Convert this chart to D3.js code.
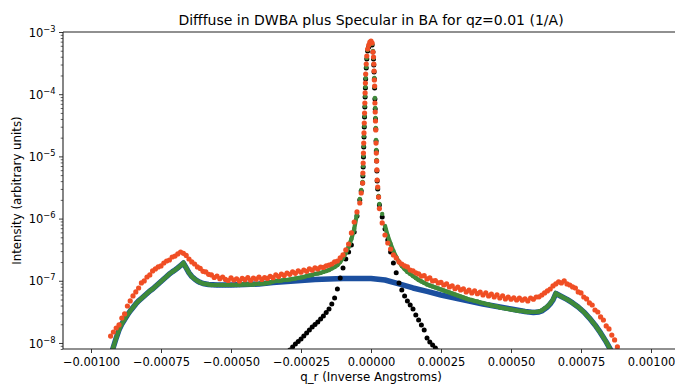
<!DOCTYPE html>
<html>
<head>
<meta charset="utf-8">
<script src="https://cdn.jsdelivr.net/npm/d3@7/dist/d3.min.js"></script>
<style>
  body { margin: 0; background: #fff; }
  svg text { font-family: "DejaVu Sans", sans-serif; fill: #000; }
</style>
</head>
<body>
<svg id="chart" width="675" height="385"></svg>
<script>
// ---- Data (q_r lists are in units of 1e-5 1/A) ----
const QR_UNIT = 1e-5;

// grid shared by the measured data and the total model
const qrData = [
  -93, -92, -91, -90, -89, -88, -87, -86, -85, -84,
  -83, -82, -81, -80, -79, -78, -77, -76, -75, -74,
  -73, -72, -71, -70, -69, -68, -67, -66, -65, -64,
  -63, -62, -61, -60, -59, -58, -57, -56, -55, -54,
  -53, -52, -51, -50, -49, -48, -47, -46, -45, -44,
  -43, -42, -41, -40, -39, -38, -37, -36, -35, -34,
  -33, -32, -31, -30, -29, -28, -27, -26, -25, -24,
  -23, -22, -21, -20, -19, -18, -17, -16, -15, -14,
  -13, -12, -11, -10, -9, -8, -7, -6, -5, -4,
  -3.5, -3, -2.9, -2.8, -2.7, -2.6, -2.5, -2.4, -2.3, -2.2, -2.1, -2, -1.9, -1.7, -1.5, -1.2, -0.8, -0.4,
  0, 0.4, 0.7, 0.9, 1, 1.1, 1.2, 1.3, 1.4, 1.5, 1.6, 1.7, 1.8, 1.9, 2, 2.1, 2.2, 2.4, 2.7,
  3, 4, 5, 6, 7, 8, 9, 10, 11, 12,
  13, 14, 15, 16, 17, 18, 19, 20, 21, 22,
  23, 24, 25, 26, 27, 28, 29, 30, 31, 32,
  33, 34, 35, 36, 37, 38, 39, 40, 41, 42,
  43, 44, 45, 46, 47, 48, 49, 50, 51, 52,
  53, 54, 55, 56, 57, 58, 59, 60, 61, 62,
  63, 64, 65, 66, 67, 68, 69, 70, 71, 72,
  73, 74, 75, 76, 77, 78, 79, 80, 81, 82,
  83, 84, 85, 86, 87, 88
];

// measured intensity (orange)
const measured = [
  1.29e-8, 1.50e-8, 1.74e-8, 1.95e-8, 2.52e-8, 2.93e-8, 3.93e-8, 4.74e-8, 5.70e-8, 6.61e-8,
  7.66e-8, 9.22e-8, 9.93e-8, 1.15e-7, 1.24e-7, 1.44e-7, 1.55e-7, 1.67e-7, 1.73e-7, 1.93e-7,
  2.08e-7, 2.16e-7, 2.41e-7, 2.50e-7, 2.70e-7, 2.90e-7, 2.75e-7, 2.56e-7, 2.24e-7, 2.01e-7,
  1.86e-7, 1.67e-7, 1.58e-7, 1.42e-7, 1.39e-7, 1.27e-7, 1.24e-7, 1.13e-7, 1.19e-7, 1.08e-7,
  1.15e-7, 1.05e-7, 1.01e-7, 1.11e-7, 1.03e-7, 1.07e-7, 9.93e-8, 1.09e-7, 1.04e-7, 1.12e-7,
  1.02e-7, 1.10e-7, 1.06e-7, 1.15e-7, 1.05e-7, 1.13e-7, 1.09e-7, 1.18e-7, 1.12e-7, 1.24e-7,
  1.17e-7, 1.28e-7, 1.22e-7, 1.33e-7, 1.27e-7, 1.39e-7, 1.32e-7, 1.44e-7, 1.37e-7, 1.49e-7,
  1.42e-7, 1.55e-7, 1.48e-7, 1.61e-7, 1.55e-7, 1.66e-7, 1.64e-7, 1.73e-7, 1.79e-7, 1.86e-7,
  2.01e-7, 2.08e-7, 2.33e-7, 2.60e-7, 3.13e-7, 3.90e-7, 5.87e-7, 8.82e-7, 1.28e-6, 1.78e-6,
  2.58e-6, 3.73e-6, 5.41e-6, 7.83e-6, 1.13e-5, 1.64e-5, 2.38e-5, 3.44e-5, 4.98e-5, 7.22e-5, 1.05e-4, 1.51e-4, 2.11e-4, 3.06e-4, 4.11e-4, 5.33e-4, 6.18e-4, 6.90e-4,
  7.16e-4, 6.65e-4, 4.77e-4, 3.96e-4, 3.06e-4, 2.36e-4, 1.69e-4, 1.35e-4, 7.22e-5, 5.17e-5, 3.71e-5, 2.66e-5, 1.64e-5, 1.13e-5, 8.43e-6, 6.05e-6, 4.17e-6, 3.22e-6, 2.22e-6,
  1.45e-6, 8.50e-7, 5.45e-7, 4.05e-7, 3.24e-7, 2.60e-7, 2.33e-7, 2.01e-7, 1.86e-7, 1.73e-7,
  1.67e-7, 1.49e-7, 1.44e-7, 1.34e-7, 1.29e-7, 1.19e-7, 1.21e-7, 1.07e-7, 1.11e-7, 9.93e-8,
  1.01e-7, 9.22e-8, 9.40e-8, 8.56e-8, 8.89e-8, 7.95e-8, 8.31e-8, 7.45e-8, 7.90e-8, 7.12e-8,
  7.42e-8, 6.61e-8, 7.05e-8, 6.37e-8, 6.86e-8, 6.20e-8, 6.55e-8, 5.91e-8, 6.40e-8, 5.70e-8,
  6.10e-8, 5.49e-8, 5.95e-8, 5.29e-8, 5.75e-8, 5.10e-8, 5.49e-8, 5.05e-8, 5.33e-8, 4.91e-8,
  5.25e-8, 4.88e-8, 5.12e-8, 4.74e-8, 5.29e-8, 5.05e-8, 5.49e-8, 5.52e-8, 5.91e-8, 6.37e-8,
  6.86e-8, 7.38e-8, 8.25e-8, 8.89e-8, 9.57e-8, 9.22e-8, 9.93e-8, 8.89e-8, 8.56e-8, 7.95e-8,
  7.66e-8, 6.61e-8, 6.37e-8, 5.49e-8, 5.10e-8, 4.40e-8, 4.08e-8, 3.39e-8, 3.15e-8, 2.62e-8,
  2.34e-8, 1.88e-8, 1.68e-8, 1.34e-8, 1.12e-8, 8.63e-9
];

// diffuse (DWBA) + specular (BA) model (green)
const modelTotal = [
  6.18e-9, 8.63e-9, 1.20e-8, 1.62e-8, 2.02e-8, 2.39e-8, 2.82e-8, 3.27e-8, 3.72e-8, 4.24e-8,
  4.74e-8, 5.19e-8, 5.70e-8, 6.25e-8, 6.86e-8, 7.38e-8, 8.10e-8, 8.89e-8, 9.75e-8, 1.07e-7,
  1.17e-7, 1.29e-7, 1.39e-7, 1.49e-7, 1.61e-7, 1.76e-7, 1.93e-7, 1.61e-7, 1.34e-7, 1.17e-7,
  1.07e-7, 9.93e-8, 9.40e-8, 9.05e-8, 8.89e-8, 8.73e-8, 8.56e-8, 8.56e-8, 8.56e-8, 8.56e-8,
  8.56e-8, 8.56e-8, 8.56e-8, 8.56e-8, 8.56e-8, 8.56e-8, 8.56e-8, 8.73e-8, 8.73e-8, 8.73e-8,
  8.73e-8, 8.73e-8, 8.89e-8, 8.89e-8, 9.05e-8, 9.05e-8, 9.22e-8, 9.40e-8, 9.75e-8, 9.93e-8,
  9.93e-8, 1.01e-7, 1.03e-7, 1.03e-7, 1.05e-7, 1.07e-7, 1.09e-7, 1.11e-7, 1.13e-7, 1.15e-7,
  1.19e-7, 1.22e-7, 1.24e-7, 1.29e-7, 1.31e-7, 1.34e-7, 1.39e-7, 1.44e-7, 1.49e-7, 1.58e-7,
  1.67e-7, 1.79e-7, 2.01e-7, 2.33e-7, 2.80e-7, 3.49e-7, 4.70e-7, 6.81e-7, 1.19e-6, 2.07e-6,
  2.88e-6, 3.88e-6, 5.02e-6, 7.01e-6, 1.02e-5, 1.47e-5, 2.13e-5, 3.08e-5, 4.46e-5, 6.46e-5, 9.36e-5, 1.31e-4, 1.82e-4, 2.74e-4, 3.82e-4, 5.14e-4, 5.95e-4, 6.65e-4,
  6.90e-4, 6.41e-4, 4.95e-4, 3.82e-4, 3.06e-4, 2.36e-4, 1.82e-4, 1.31e-4, 8.69e-5, 6.00e-5, 4.14e-5, 2.86e-5, 1.84e-5, 1.27e-5, 8.75e-6, 6.05e-6, 4.17e-6, 3.10e-6, 2.31e-6,
  1.72e-6, 1.19e-6, 7.61e-7, 5.25e-7, 3.90e-7, 3.01e-7, 2.41e-7, 2.01e-7, 1.73e-7, 1.55e-7,
  1.39e-7, 1.29e-7, 1.19e-7, 1.11e-7, 1.03e-7, 9.75e-8, 9.22e-8, 8.73e-8, 8.40e-8, 8.10e-8,
  7.81e-8, 7.52e-8, 7.25e-8, 6.99e-8, 6.74e-8, 6.49e-8, 6.25e-8, 6.03e-8, 5.80e-8, 5.60e-8,
  5.39e-8, 5.19e-8, 5.01e-8, 4.91e-8, 4.74e-8, 4.65e-8, 4.48e-8, 4.40e-8, 4.24e-8, 4.16e-8,
  4.01e-8, 3.93e-8, 3.86e-8, 3.72e-8, 3.65e-8, 3.58e-8, 3.52e-8, 3.46e-8, 3.39e-8, 3.33e-8,
  3.27e-8, 3.27e-8, 3.21e-8, 3.15e-8, 3.15e-8, 3.15e-8, 3.15e-8, 3.21e-8, 3.33e-8, 3.58e-8,
  3.86e-8, 4.32e-8, 5.01e-8, 6.25e-8, 5.91e-8, 5.60e-8, 5.29e-8, 5.01e-8, 4.74e-8, 4.40e-8,
  4.08e-8, 3.79e-8, 3.46e-8, 3.15e-8, 2.82e-8, 2.52e-8, 2.22e-8, 1.95e-8, 1.68e-8, 1.45e-8,
  1.23e-8, 1.04e-8, 8.63e-9, 7.17e-9, 5.96e-9, 4.90e-9
];

// specular in BA (black)
const qrSpec = [
  -29, -28, -27, -26, -25, -24, -23, -22, -21, -20,
  -19, -18, -17, -16, -15, -14, -13, -12, -11, -10,
  -9, -8, -7, -6, -5, -4,
  -3.5, -3, -2.9, -2.8, -2.7, -2.6, -2.5, -2.4, -2.3, -2.2, -2.1, -2, -1.9, -1.7, -1.5, -1.2, -0.8, -0.4,
  0, 0.4, 0.7, 0.9, 1, 1.1, 1.2, 1.3, 1.4, 1.5, 1.6, 1.7, 1.8, 1.9, 2, 2.1, 2.2, 2.4, 2.7,
  3, 4, 5, 6, 7, 8, 9, 10, 11, 12,
  13, 14, 15, 16, 17, 18, 19, 20, 21, 22, 23, 24
];
const specular = [
  7.72e-9, 8.63e-9, 9.64e-9, 1.06e-8, 1.16e-8, 1.29e-8, 1.45e-8, 1.62e-8, 1.81e-8, 1.99e-8,
  2.18e-8, 2.43e-8, 2.72e-8, 3.09e-8, 3.52e-8, 4.24e-8, 5.29e-8, 7.38e-8, 1.11e-7, 1.61e-7,
  2.24e-7, 2.90e-7, 3.76e-7, 6.09e-7, 1.10e-6, 1.99e-6,
  2.78e-6, 3.73e-6, 4.84e-6, 6.76e-6, 9.78e-6, 1.42e-5, 2.05e-5, 2.97e-5, 4.30e-5, 6.22e-5, 9.02e-5, 1.26e-4, 1.75e-4, 2.64e-4, 3.68e-4, 4.95e-4, 5.74e-4, 6.41e-4,
  6.65e-4, 6.18e-4, 4.77e-4, 3.68e-4, 2.95e-4, 2.28e-4, 1.75e-4, 1.26e-4, 8.37e-5, 5.78e-5, 3.99e-5, 2.76e-5, 1.77e-5, 1.22e-5, 8.43e-6, 5.82e-6, 4.02e-6, 2.99e-6, 2.22e-6,
  1.66e-6, 1.06e-6, 6.81e-7, 4.53e-7, 2.90e-7, 1.93e-7, 1.34e-7, 9.22e-8, 7.12e-8, 5.70e-8,
  4.74e-8, 4.08e-8, 3.52e-8, 2.82e-8, 2.34e-8, 1.95e-8, 1.62e-8, 1.20e-8, 1.04e-8, 9.29e-9, 8.31e-9, 7.44e-9
];

// diffuse in DWBA (blue line)
const qrDiffuse = [
  -93, -92, -91, -90, -89, -88, -87, -86, -85, -84, -83, -82, -81, -80, -79, -78, -77, -76, -75, -74,
  -73, -72, -71, -70, -69, -68, -67, -66, -65, -64, -63, -62, -61, -60, -58, -55, -50, -45, -40, -35,
  -30, -25, -20, -15, -10, -5, 0, 5, 10, 15, 20, 25, 30, 35, 40, 45, 50, 55, 58, 60,
  61, 62, 63, 64, 65, 66, 67, 68, 70, 72, 74, 76, 78, 80, 82, 84, 86
];
const diffuse = [
  6.18e-9, 8.63e-9, 1.20e-8, 1.62e-8, 2.02e-8, 2.39e-8, 2.82e-8, 3.27e-8, 3.72e-8, 4.24e-8, 4.74e-8, 5.19e-8, 5.70e-8, 6.25e-8, 6.86e-8, 7.38e-8, 8.10e-8, 8.89e-8, 9.75e-8, 1.07e-7,
  1.17e-7, 1.29e-7, 1.39e-7, 1.49e-7, 1.61e-7, 1.76e-7, 1.93e-7, 1.61e-7, 1.34e-7, 1.17e-7, 1.07e-7, 9.93e-8, 9.40e-8, 9.05e-8, 8.73e-8, 8.56e-8, 8.56e-8, 8.73e-8, 8.89e-8, 9.40e-8,
  9.75e-8, 1.01e-7, 1.05e-7, 1.07e-7, 1.09e-7, 1.09e-7, 1.09e-7, 1.03e-7, 8.89e-8, 7.66e-8, 6.74e-8, 5.91e-8, 5.29e-8, 4.74e-8, 4.24e-8, 3.86e-8, 3.52e-8, 3.21e-8, 3.09e-8, 3.15e-8,
  3.27e-8, 3.52e-8, 3.79e-8, 4.24e-8, 4.91e-8, 6.25e-8, 5.91e-8, 5.60e-8, 5.01e-8, 4.40e-8, 3.79e-8, 3.15e-8, 2.52e-8, 1.95e-8, 1.45e-8, 1.04e-8, 7.17e-9
];

const xTicks = [-0.001, -0.00075, -0.0005, -0.00025, 0, 0.00025, 0.0005, 0.00075, 0.001];
const yTickExponents = [-8, -7, -6, -5, -4, -3];

const TITLE = 'Difffuse in DWBA plus Specular in BA for qz=0.01 (1/A)';
const X_LABEL = 'q_r (Inverse Angstroms)';
const Y_LABEL = 'Intensity (arbitrary units)';

// ---- Drawing ----
const ORANGE = '#f04e24';
const GREEN = '#3f8a3a';
const BLUE = '#1b4f9f';
const FONT = '"DejaVu Sans", sans-serif';

const plot = { left: 63, right: 679, top: 32, bottom: 349 };

const svg = d3.select('#chart');

const x = d3.scaleLinear().domain([-0.0011, 0.0011]).range([plot.left, plot.right]);
const y = d3.scaleLog().domain([8.0e-9, 1e-3]).range([plot.bottom, plot.top]);

const toPoints = (qs, vs) => qs.map((q, i) => ({ q: q * QR_UNIT, v: vs[i] }));

svg.append('defs').append('clipPath').attr('id', 'plotClip')
  .append('rect')
  .attr('x', plot.left).attr('y', plot.top)
  .attr('width', plot.right - plot.left).attr('height', plot.bottom - plot.top);

const g = svg.append('g').attr('clip-path', 'url(#plotClip)');

// diffuse line
g.append('path')
  .datum(toPoints(qrDiffuse, diffuse))
  .attr('fill', 'none')
  .attr('stroke', BLUE)
  .attr('stroke-width', 5.5)
  .attr('stroke-linejoin', 'round')
  .attr('d', d3.line().x(d => x(d.q)).y(d => y(d.v)));

// specular dots
g.append('g')
  .selectAll('circle')
  .data(toPoints(qrSpec, specular))
  .join('circle')
  .attr('cx', d => x(d.q))
  .attr('cy', d => y(d.v))
  .attr('r', 2.5)
  .attr('fill', '#000');

// total model: dense dots, joined outside the narrow specular core
const total = toPoints(qrData, modelTotal);
g.append('path')
  .datum(total)
  .attr('fill', 'none')
  .attr('stroke', GREEN)
  .attr('stroke-width', 4.2)
  .attr('d', d3.line().defined(d => Math.abs(d.q) > 4e-5).x(d => x(d.q)).y(d => y(d.v)));
g.append('g')
  .selectAll('circle')
  .data(total)
  .join('circle')
  .attr('cx', d => x(d.q))
  .attr('cy', d => y(d.v))
  .attr('r', 2.2)
  .attr('fill', GREEN);

// measured dots
g.append('g')
  .selectAll('circle')
  .data(toPoints(qrData, measured))
  .join('circle')
  .attr('cx', d => x(d.q))
  .attr('cy', d => y(d.v))
  .attr('r', 2.6)
  .attr('fill', ORANGE);

// x axis
const gx = svg.append('g')
  .attr('transform', `translate(0,${plot.bottom})`)
  .call(d3.axisBottom(x).tickValues(xTicks).tickFormat(d3.format('.5f'))
    .tickSize(4).tickPadding(5.3).tickSizeOuter(0));
gx.select('.domain').remove();
gx.attr('font-family', FONT).attr('font-size', 11.5);
gx.selectAll('line').attr('stroke', '#222').attr('stroke-width', 0.9);

// y axis: major ticks with 10^n labels, then minor ticks
const gy = svg.append('g')
  .attr('transform', `translate(${plot.left},0)`)
  .call(d3.axisLeft(y).tickValues(yTickExponents.map(e => Math.pow(10, e)))
    .tickFormat(() => '').tickSize(4).tickSizeOuter(0));
gy.select('.domain').remove();
gy.selectAll('line').attr('stroke', '#222').attr('stroke-width', 0.9);
gy.selectAll('.tick').each(function (d) {
  const e = Math.round(Math.log10(d));
  const t = d3.select(this).append('text')
    .attr('x', -7.5).attr('y', 4.2)
    .attr('text-anchor', 'end')
    .attr('font-family', FONT)
    .attr('font-size', 11.5)
    .attr('fill', '#000');
  t.append('tspan').text('10');
  t.append('tspan').attr('dy', -5).attr('font-size', 8.3).text('\u2212' + Math.abs(e));
});

const minorVals = [];
for (let e = -9; e <= -4; e++) {
  for (let m = 2; m <= 9; m++) {
    const v = m * Math.pow(10, e);
    if (v >= 8.0e-9 && v <= 1e-3) minorVals.push(v);
  }
}
const gyMinor = svg.append('g')
  .attr('transform', `translate(${plot.left},0)`)
  .call(d3.axisLeft(y).tickValues(minorVals).tickFormat(() => '').tickSize(2.3).tickSizeOuter(0));
gyMinor.select('.domain').remove();
gyMinor.selectAll('line').attr('stroke', '#222').attr('stroke-width', 0.7);

// spines
const spine = svg.append('g').attr('stroke', '#222').attr('stroke-width', 1.1).attr('fill', 'none');
spine.append('line').attr('x1', plot.left).attr('x2', plot.left).attr('y1', plot.top).attr('y2', plot.bottom);
spine.append('line').attr('x1', plot.left).attr('x2', plot.right).attr('y1', plot.bottom).attr('y2', plot.bottom);
spine.append('line').attr('x1', plot.left).attr('x2', plot.right).attr('y1', plot.top).attr('y2', plot.top);
spine.append('line').attr('x1', plot.right).attr('x2', plot.right).attr('y1', plot.top).attr('y2', plot.bottom);

// title and axis labels
const midX = (plot.left + plot.right) / 2;
svg.append('text')
  .attr('x', midX).attr('y', 25)
  .attr('text-anchor', 'middle')
  .attr('font-size', 14)
  .text(TITLE);

svg.append('text')
  .attr('x', midX).attr('y', 381)
  .attr('text-anchor', 'middle')
  .attr('font-size', 11.8)
  .text(X_LABEL);

svg.append('text')
  .attr('transform', `translate(21,${(plot.top + plot.bottom) / 2}) rotate(-90)`)
  .attr('text-anchor', 'middle')
  .attr('font-size', 11.8)
  .text(Y_LABEL);
</script>
</body>
</html>
